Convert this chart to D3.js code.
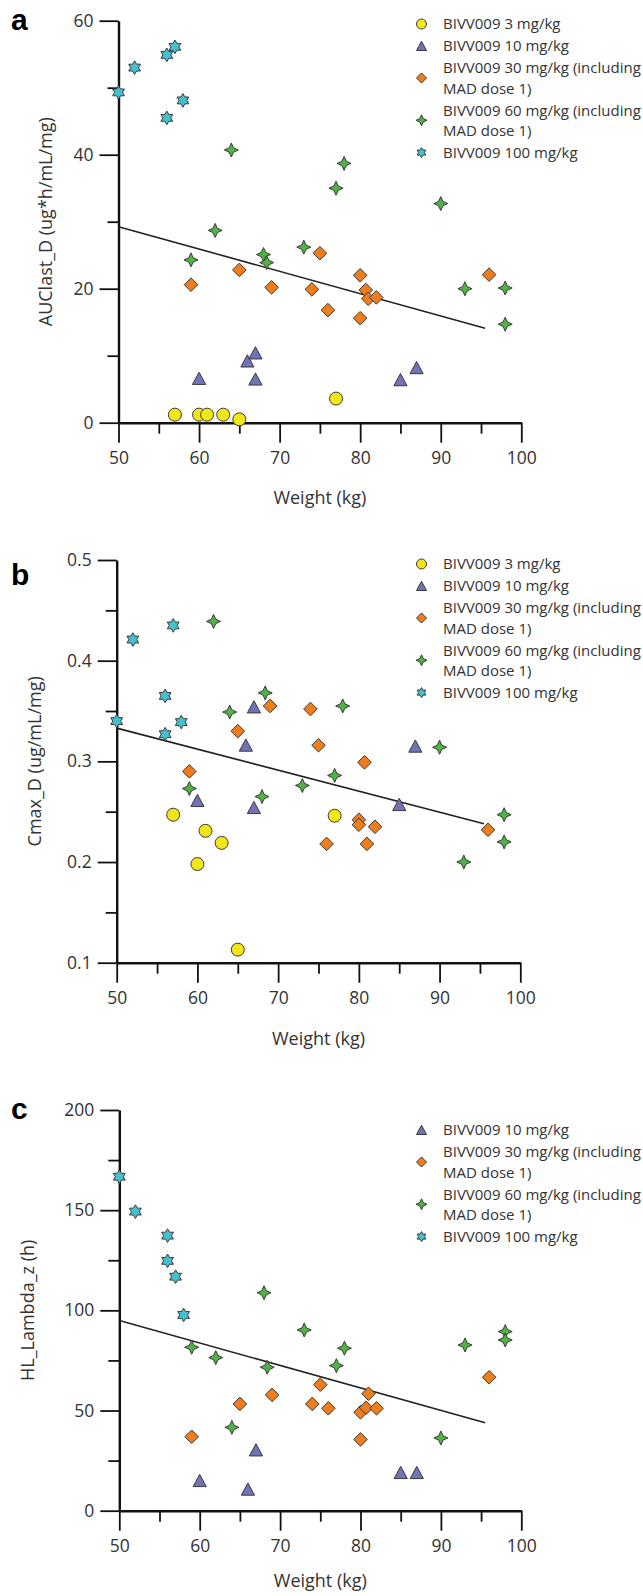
<!DOCTYPE html>
<html>
<head>
<meta charset="utf-8">
<script src="https://cdn.jsdelivr.net/npm/d3@7"></script>
<style>
  body { margin: 0; background: #fff; }
  svg text { font-family: "Open Sans", "Noto Sans", sans-serif; fill: #333; }
</style>
</head>
<body>
<svg id="chart" width="643" height="1596"></svg>
<script>
/* data */

// weights (kg) per dose group
const weights3 = [57, 60, 61, 63, 65, 77];
const weights10 = [60, 66, 67, 67, 85, 87];
const weights30 = [59, 65, 69, 74, 75, 76, 80, 80, 80.7, 81, 82, 96];
const weights60 = [59, 62, 64, 68, 68.4, 73, 77, 78, 90, 93, 98, 98];
const weights100 = [50, 52, 56, 56, 57, 58];

// AUClast_D
const auc3 = [1.2, 1.2, 1.2, 1.2, 0.5, 3.6];
const auc10 = [6.6, 9.2, 10.4, 6.5, 6.4, 8.2];
const auc30 = [20.6, 22.8, 20.2, 19.9, 25.3, 16.8, 22.0, 15.6, 19.8, 18.5, 18.7, 22.1];
const auc60 = [24.3, 28.7, 40.7, 25.1, 23.9, 26.2, 35.0, 38.7, 32.7, 20.0, 20.1, 14.7];
const auc100 = [49.3, 53.0, 54.9, 45.5, 56.1, 48.1];

// Cmax_D
const cmax3 = [0.247, 0.198, 0.231, 0.219, 0.113, 0.246];
const cmax10 = [0.261, 0.316, 0.354, 0.254, 0.257, 0.315];
const cmax30 = [0.290, 0.330, 0.355, 0.352, 0.316, 0.218, 0.242, 0.237, 0.299, 0.218, 0.235, 0.232];
const cmax60 = [0.273, 0.439, 0.349, 0.265, 0.368, 0.276, 0.286, 0.355, 0.314, 0.200, 0.247, 0.220];
const cmax100 = [0.340, 0.421, 0.365, 0.327, 0.435, 0.339];

// HL_Lambda_z (no 3 mg/kg group, one 10 mg/kg subject missing)
const hl10 = [15, 10.7, 30.3, null, 19, 19];
const hl30 = [36.9, 53.3, 57.8, 53.3, 62.9, 51.1, 49.1, 35.6, 51.4, 58.4, 51.1, 66.6];
const hl60 = [81.6, 76.4, 41.6, 108.8, 71.6, 90.2, 72.4, 81.1, 36.3, 82.7, 89.4, 85.2];
const hl100 = [166.7, 149.3, 137.3, 124.7, 116.8, 97.7];

// regression lines [weight, value] at both ends
const fitAuc = [[50, 29.25], [95.5, 14.1]];
const fitCmax = [[50, 0.333], [95.5, 0.238]];
const fitHl = [[50, 94.9], [95.5, 43.9]];

// ticks
const weightTicks = [50, 60, 70, 80, 90, 100];
const weightMinor = [55, 65, 75, 85, 95];
const aucTicks = [0, 20, 40, 60];
const aucMinor = [10, 30, 50];
const cmaxTicks = [0.1, 0.2, 0.3, 0.4, 0.5];
const cmaxMinor = [0.15, 0.25, 0.35, 0.45];
const hlTicks = [0, 50, 100, 150, 200];
const hlMinor = [25, 75, 125, 175];

const groupNames = {
	g3: "BIVV009 3 mg/kg",
	g10: "BIVV009 10 mg/kg",
	g30: ["BIVV009 30 mg/kg (including", "MAD dose 1)"],
	g60: ["BIVV009 60 mg/kg (including", "MAD dose 1)"],
	g100: "BIVV009 100 mg/kg"
};

/* marker shapes */
const shapes = {
	circle: { draw(ctx, s) { const r = Math.sqrt(s); ctx.moveTo(r, 0); ctx.arc(0, 0, r, 0, 2 * Math.PI); } },
	triangle: { draw(ctx, s) { const r = Math.sqrt(s); ctx.moveTo(0, -r * 0.95); ctx.lineTo(r, r * 0.9); ctx.lineTo(-r, r * 0.9); ctx.closePath(); } },
	diamond: { draw(ctx, s) { const r = Math.sqrt(s); ctx.moveTo(0, -r); ctx.lineTo(r, 0); ctx.lineTo(0, r); ctx.lineTo(-r, 0); ctx.closePath(); } },
	star4: { draw(ctx, s) {
		const r = Math.sqrt(s);
		for (let i = 0; i < 8; i++) {
			const a = i * Math.PI / 4 - Math.PI / 2, rr = i % 2 ? r * 0.44 : r;
			i ? ctx.lineTo(rr * Math.cos(a), rr * Math.sin(a)) : ctx.moveTo(rr * Math.cos(a), rr * Math.sin(a));
		}
		ctx.closePath();
	} },
	star6: { draw(ctx, s) {
		const r = Math.sqrt(s);
		for (let i = 0; i < 12; i++) {
			const a = i * Math.PI / 6 - Math.PI / 2, rr = i % 2 ? r * 0.58 : r;
			i ? ctx.lineTo(rr * Math.cos(a), rr * Math.sin(a)) : ctx.moveTo(rr * Math.cos(a), rr * Math.sin(a));
		}
		ctx.closePath();
	} }
};

const styles = {
	g3: { shape: shapes.circle, fill: "#f2e617", r: 6.5, lr: 5 },
	g10: { shape: shapes.triangle, fill: "#7272b9", r: 6.6, lr: 5 },
	g30: { shape: shapes.diamond, fill: "#f07d1c", r: 6.8, lr: 5 },
	g60: { shape: shapes.star4, fill: "#4fb443", r: 7, lr: 5.5 },
	g100: { shape: shapes.star6, fill: "#44c0cf", r: 6.8, lr: 5 }
};

const panels = [
	{
		letter: "a", letterY: 30, label: "AUClast_D (ug*h/mL/mg)", labelX: 46,
		x0: 118.5, x1: 521.3, yTop: 20.7, yBot: 422.7, domain: [0, 60],
		ticks: aucTicks, minor: aucMinor, fmt: d3.format("d"), fit: fitAuc, titleDy: 81,
		series: [["g3", weights3, auc3], ["g10", weights10, auc10], ["g30", weights30, auc30], ["g60", weights60, auc60], ["g100", weights100, auc100]],
		legendY: 24
	},
	{
		letter: "b", letterY: 585, label: "Cmax_D (ug/mL/mg)", labelX: 35,
		x0: 116.7, x1: 520.3, yTop: 560, yBot: 962.7, domain: [0.1, 0.5],
		ticks: cmaxTicks, minor: cmaxMinor, fmt: d3.format(".1f"), fit: fitCmax, titleDy: 82,
		series: [["g3", weights3, cmax3], ["g10", weights10, cmax10], ["g30", weights30, cmax30], ["g60", weights60, cmax60], ["g100", weights100, cmax100]],
		legendY: 564
	},
	{
		letter: "c", letterY: 1119, label: "HL_Lambda_z (h)", labelX: 27.5,
		x0: 119.3, x1: 521.3, yTop: 1110, yBot: 1510.7, domain: [0, 200],
		ticks: hlTicks, minor: hlMinor, fmt: d3.format("d"), fit: fitHl, titleDy: 76,
		series: [["g10", weights10, hl10], ["g30", weights30, hl30], ["g60", weights60, hl60], ["g100", weights100, hl100]],
		legendY: 1130
	}
];

const svg = d3.select("#chart");

panels.forEach(p => {
	const x = d3.scaleLinear().domain([50, 100]).range([p.x0, p.x1]);
	const y = d3.scaleLinear().domain(p.domain).range([p.yBot, p.yTop]);
	const g = svg.append("g");

	// panel letter
	svg.append("text").attr("x", 11).attr("y", p.letterY)
		.style("font-family", "'Liberation Sans', Arial, sans-serif")
		.style("font-weight", "bold").style("font-size", "30px").style("fill", "#000")
		.text(p.letter);

	// axes
	g.append("g").attr("transform", `translate(${p.x0},0)`)
		.call(d3.axisLeft(y).tickValues(p.ticks).tickFormat(p.fmt).tickSize(19).tickSizeOuter(0).tickPadding(6));
	g.append("g").attr("transform", `translate(${p.x0},0)`)
		.call(d3.axisLeft(y).tickValues(p.minor).tickFormat("").tickSize(11).tickSizeOuter(0))
		.select(".domain").remove();
	g.append("g").attr("transform", `translate(0,${p.yBot})`)
		.call(d3.axisBottom(x).tickValues(weightTicks).tickSize(20).tickSizeOuter(0).tickPadding(9));
	g.append("g").attr("transform", `translate(0,${p.yBot})`)
		.call(d3.axisBottom(x).tickValues(weightMinor).tickFormat("").tickSize(11).tickSizeOuter(0))
		.select(".domain").remove();

	g.selectAll(".domain").attr("stroke", "#111").attr("stroke-width", 2.4);
	g.selectAll(".tick line").attr("stroke", "#111").attr("stroke-width", 1.8);
	g.selectAll(".tick text").style("font-size", "17.5px").style("fill", "#333");

	// axis titles
	g.append("text")
		.attr("transform", `translate(${p.labelX},${(p.yTop + p.yBot) / 2}) rotate(-90)`)
		.attr("text-anchor", "middle").attr("dy", "0.35em")
		.style("font-size", "18px")
		.text(p.label);
	g.append("text")
		.attr("x", (p.x0 + p.x1) / 2).attr("y", p.yBot + p.titleDy)
		.attr("text-anchor", "middle")
		.style("font-size", "18px")
		.text("Weight (kg)");

	// regression line
	g.append("path")
		.datum(p.fit)
		.attr("fill", "none").attr("stroke", "#222").attr("stroke-width", 1.6)
		.attr("d", d3.line().x(d => x(d[0])).y(d => y(d[1])));

	// points
	p.series.forEach(([key, ws, vs]) => {
		const st = styles[key];
		const pts = ws.map((w, i) => ({ w: w, v: vs[i] })).filter(d => d.v != null);
		g.append("g").selectAll("path").data(pts).enter()
			.append("path")
			.attr("transform", d => `translate(${x(d.w)},${y(d.v)})`)
			.attr("d", d3.symbol().type(st.shape).size(st.r * st.r))
			.attr("fill", st.fill)
			.attr("stroke", "#3a3a3a")
			.attr("stroke-width", 1);
	});

	// legend
	const leg = g.append("g");
	let ly = p.legendY;
	p.series.forEach(([key]) => {
		const st = styles[key];
		const lines = [].concat(groupNames[key]);
		const my = ly + (lines.length - 1) * 10;
		leg.append("path")
			.attr("transform", `translate(421.5,${my})`)
			.attr("d", d3.symbol().type(st.shape).size(st.lr * st.lr))
			.attr("fill", st.fill).attr("stroke", "#3a3a3a").attr("stroke-width", 1);
		lines.forEach((t, i) => {
			leg.append("text")
				.attr("x", 443).attr("y", ly + i * 20.3).attr("dy", "0.35em")
				.style("font-size", "15px")
				.text(t);
		});
		ly += (lines.length - 1) * 20.3 + 22;
	});
});
</script>
</body>
</html>
